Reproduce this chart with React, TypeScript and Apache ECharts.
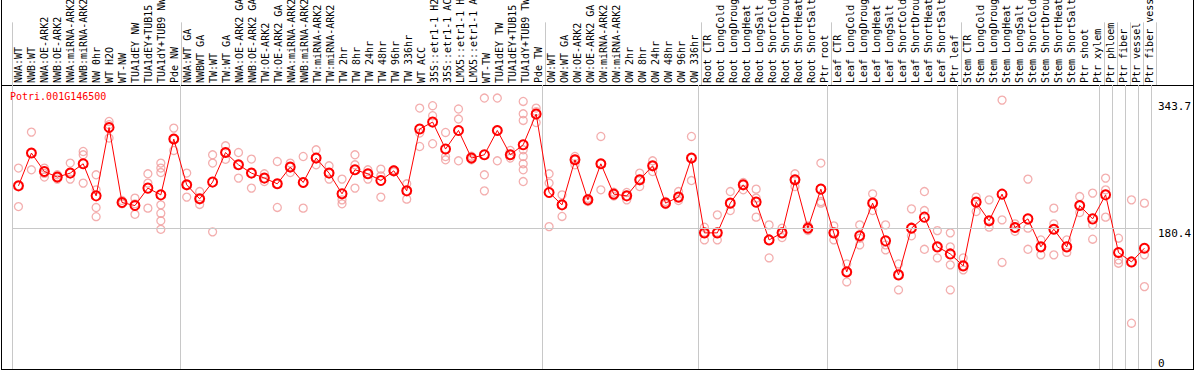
import React, { useEffect, useRef } from "react";
import * as echarts from "echarts";

const categories = [
  "NWA:WT","NWB:WT","NWA:OE-ARK2","NWB:OE-ARK2","NWA:miRNA-ARK2","NWB:miRNA-ARK2","NW 0hr","WT H2O","WT-NW","TUA1dEY NW","TUA1dEY+TUB15 NW","TUA1dY+TUB9 NW","Pde NW",
  "NWA:WT GA","NWBWT GA","TW:WT","TW:WT GA","NWA:OE-ARK2 GA","NWB:OE-ARK2 GA","TW:OE-ARK2","TW:OE-ARK2 GA","NWA:miRNA-ARK2","NWB:miRNA-ARK2","TW:miRNA-ARK2","TW:miRNA-ARK2",
  "TW 2hr","TW 8hr","TW 24hr","TW 48hr","TW 96hr","TW 336hr","WT ACC","35S::etr1-1 H2O","35S::etr1-1 ACC","LMX5::etr1-1 H2O","LMX5::etr1-1 ACC","WT-TW","TUA1dEY TW","TUA1dEY+TUB15 TW","TUA1dY+TUB9 TW","Pde TW",
  "OW:WT","OW:WT GA","OW:OE-ARK2","OW:OE-ARK2 GA","OW:miRNA-ARK2","OW:miRNA-ARK2","OW 2hr","OW 8hr","OW 24hr","OW 48hr","OW 96hr","OW 336hr",
  "Root CTR","Root LongCold","Root LongDrought","Root LongHeat","Root LongSalt","Root ShortCold","Root ShortDrought","Root ShortHeat","Root ShortSalt","Ptr root",
  "Leaf CTR","Leaf LongCold","Leaf LongDrought","Leaf LongHeat","Leaf LongSalt","Leaf ShortCold","Leaf ShortDrought","Leaf ShortHeat","Leaf ShortSalt","Ptr leaf",
  "Stem CTR","Stem LongCold","Stem LongDrought","Stem LongHeat","Stem LongSalt","Stem ShortCold","Stem ShortDrought","Stem ShortHeat","Stem ShortSalt","Ptr shoot","Ptr xylem",
  "Ptr phloem","Ptr fiber","Ptr vessel","Ptr fiber vessel"
];

// indices of categories that start a new group (separator drawn at their left edge)
const groupStarts = [0, 13, 41, 53, 63, 73, 84, 85, 86, 87];

const means = [
  234.1, 276.0, 252.4, 245.3, 250.4, 262.3, 221.3, 308.7, 212.8, 208.9, 231.2, 222.6, 293.9,
  235.4, 217.5, 238.9, 276.7, 261.0, 250.4, 244.0, 236.7, 258.1, 238.4, 269.6, 250.4,
  223.9, 254.6, 249.5, 240.9, 253.3, 227.7, 306.7, 315.6, 281.1, 304.9, 269.6, 273.8, 304.9, 273.8, 286.6, 325.9,
  225.6, 209.8, 267.4, 216.2, 262.3, 223.5, 221.3, 241.8, 259.7, 212.0, 219.7, 269.6,
  174.0, 174.0, 212.0, 235.4, 213.3, 165.0, 174.0, 241.8, 180.0, 229.9,
  174.0, 124.1, 170.2, 212.0, 163.8, 120.3, 180.0, 194.1, 156.1, 147.1,
  131.8, 213.3, 189.4, 223.5, 180.8, 191.9, 156.1, 178.7, 156.1, 208.9, 191.9,
  222.6, 148.8, 136.9, 154.4
];

const replicates = [
  [256.8, 234.1, 207.6], [302.8, 276.0, 254.6], [256.8, 250.0, 245.3], [248.2, 245.3, 242.7],
  [263.2, 250.4, 242.7], [278.0, 273.8, 237.6], [248.2, 229.0, 206.4, 194.7], [316.4, 312.2, 295.2],
  [215.3, 212.0, 211.1], [218.4, 211.1, 197.7], [249.5, 237.6, 205.6],
  [263.2, 256.8, 251.1, 209.8, 199.1, 189.4, 178.5], [307.9, 293.9, 279.3],
  [250.4, 235.4, 219.7], [226.8, 217.5, 210.3], [273.8, 263.2, 175.3], [285.3, 276.7, 268.0],
  [276.7, 261.0, 244.0], [268.3, 250.4, 231.2], [249.5, 244.0, 239.6], [265.2, 236.7, 206.5],
  [263.2, 258.1, 251.1], [271.6, 238.4, 205.6], [280.2, 269.6, 261.0], [259.7, 250.4, 242.7],
  [242.7, 216.2, 211.1], [273.8, 261.0, 231.2], [254.6, 249.5, 242.7], [255.5, 246.9, 219.7],
  [254.6, 253.3, 252.0], [236.7, 227.7, 217.1], [333.5, 301.6, 284.4], [336.5, 323.7, 287.9],
  [302.3, 271.6, 267.4], [332.3, 319.5, 266.1], [272.0, 269.6, 267.4], [346.3, 248.2, 227.7],
  [346.3, 304.9, 266.1], [279.3, 273.8, 269.6],
  [342.0, 326.2, 317.7, 280.2, 271.6, 262.3, 254.6, 239.6], [333.5, 329.0, 315.0],
  [249.5, 237.6, 182.0], [222.6, 209.8, 195.0], [271.6, 267.4, 261.0], [218.0, 216.2, 214.0],
  [297.2, 262.3, 229.0], [226.0, 223.5, 221.0], [225.6, 221.3, 216.2], [250.4, 241.8, 233.2],
  [266.1, 259.7, 252.4], [214.0, 212.0, 210.3], [226.8, 219.7, 215.3], [297.2, 269.6, 240.9],
  [181.3, 174.0, 165.0], [197.0, 174.0, 165.0], [226.8, 212.0, 202.5], [238.4, 235.4, 229.0],
  [229.9, 218.4, 194.1], [184.2, 165.0, 142.0], [180.0, 174.0, 168.0], [249.5, 241.8, 233.2],
  [183.0, 180.0, 177.0], [263.2, 214.0, 212.0],
  [183.0, 174.0, 165.0], [134.3, 124.1, 111.3], [184.2, 167.2, 158.6], [223.9, 212.0, 202.5],
  [184.2, 158.6, 152.2], [134.3, 120.3, 101.1], [204.7, 180.0, 170.2], [226.8, 202.5, 153.0],
  [176.9, 156.1, 142.0], [174.0, 156.1, 133.1, 101.1],
  [142.0, 131.8, 126.7], [219.7, 213.3, 201.2], [216.2, 189.4, 181.3], [343.7, 190.6, 136.2],
  [185.5, 180.8, 176.0], [242.7, 180.0, 153.0], [165.0, 156.1, 145.9], [205.6, 185.5, 178.7, 145.9],
  [165.0, 156.1, 149.0], [220.4, 208.9, 200.0], [224.8, 184.2, 165.9],
  [244.0, 229.0, 194.1], [167.2, 139.5, 135.2], [216.2, 136.0, 58.5], [212.0, 145.9, 105.3]
];

const yTickLabels = [0, 180.4, 343.7];
const referenceLevel = 180.4;
const yMax = 363;
const geneName = "Potri.001G146500";

const MONO = "'DejaVu Sans Mono', monospace";

export default function App() {
  const ref = useRef<HTMLDivElement>(null);
  useEffect(() => {
    if (!ref.current) return;
    const chart = echarts.init(ref.current, null, { renderer: "svg" });
    const repData: number[][] = [];
    replicates.forEach((vals, i) => vals.forEach((v) => repData.push([i, v])));
    const sepInterval = (index: number) => groupStarts.indexOf(index) >= 0;
    const sepLine = { show: true, interval: sepInterval, lineStyle: { color: "#c8c8c8", width: 1 } };
    chart.setOption({
      animation: false,
      backgroundColor: "#ffffff",
      title: {
        text: geneName,
        left: 5,
        top: 86,
        textStyle: { color: "#ff0000", fontFamily: MONO, fontSize: 10, fontWeight: "normal" },
      },
      grid: [
        { left: 12, right: 38, top: 0, height: 85 },
        { left: 12, right: 38, top: 85, bottom: 1 },
      ],
      xAxis: [
        {
          gridIndex: 0, type: "category", data: categories, position: "bottom", boundaryGap: true,
          axisLine: { show: false }, axisTick: { show: false },
          axisLabel: {
            inside: true, rotate: 90, interval: 0, fontFamily: MONO, fontSize: 10, color: "#000",
            margin: 2, padding: [7, 0, 0, 0],
          },
          splitLine: sepLine,
        },
        {
          gridIndex: 1, type: "category", data: categories, boundaryGap: true,
          axisLine: { show: false }, axisTick: { show: false }, axisLabel: { show: false },
          splitLine: sepLine,
        },
      ],
      yAxis: [
        { gridIndex: 0, type: "value", show: false },
        {
          gridIndex: 1, type: "value", min: 0, max: yMax, position: "right",
          axisLine: { show: false }, axisTick: { show: false }, splitLine: { show: false },
          axisLabel: {
            customValues: yTickLabels,
            margin: 7,
            formatter: (v: number) => (v === 0 ? "{z|0}" : "{t|" + v + "}"),
            rich: {
              t: { padding: [12, 0, 0, 0], fontFamily: MONO, fontSize: 11, color: "#000" },
              z: { padding: [0, 0, 12, 0], fontFamily: MONO, fontSize: 11, color: "#000" },
            },
          },
        },
      ],
      graphic: [
        { type: "line", shape: { x1: 1.5, y1: 0, x2: 1.5, y2: 369.5 }, style: { stroke: "#000", lineWidth: 1 }, silent: true },
        { type: "line", shape: { x1: 1193.5, y1: 0, x2: 1193.5, y2: 369.5 }, style: { stroke: "#000", lineWidth: 1 }, silent: true },
        { type: "line", shape: { x1: 1, y1: 369.5, x2: 1194, y2: 369.5 }, style: { stroke: "#000", lineWidth: 1 }, silent: true },
        { type: "line", shape: { x1: 1, y1: 85.5, x2: 1194, y2: 85.5 }, style: { stroke: "#000", lineWidth: 1 }, silent: true },
      ],
      series: [
        {
          type: "scatter", xAxisIndex: 1, yAxisIndex: 1, data: repData,
          symbol: "circle", symbolSize: 8,
          itemStyle: { color: "rgba(0,0,0,0)", borderColor: "#f09a9a", borderWidth: 1.3 },
          z: 1,
        },
        {
          type: "line", xAxisIndex: 1, yAxisIndex: 1, data: means,
          symbol: "circle", symbolSize: 9, showSymbol: true, showAllSymbol: true,
          itemStyle: { color: "rgba(0,0,0,0)", borderColor: "#ff0000", borderWidth: 2 },
          lineStyle: { color: "#ff0000", width: 1 },
          z: 3,
          markLine: {
            silent: true, symbol: "none", label: { show: false },
            lineStyle: { color: "#c8c8c8", type: "solid", width: 1 },
            data: [{ yAxis: referenceLevel }],
          },
        },
      ],
    });
    return () => chart.dispose();
  }, []);
  return <div ref={ref} style={{ width: 1194, height: 370, position: "absolute", left: 0, top: 0 }} />;
}
